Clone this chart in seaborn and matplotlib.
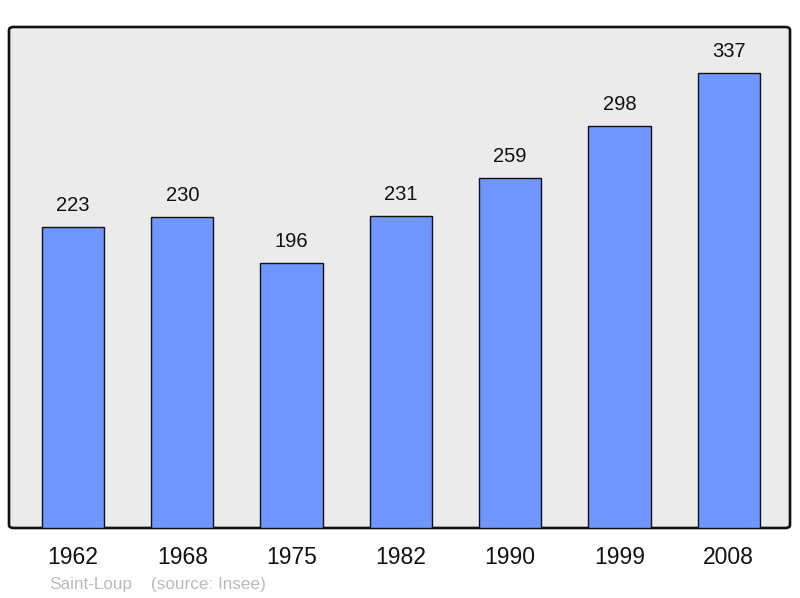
import matplotlib
matplotlib.use('Agg')
import matplotlib.pyplot as plt
import seaborn as sns
from matplotlib.patches import FancyBboxPatch

years = ['1962', '1968', '1975', '1982', '1990', '1999', '2008']
population = [223, 230, 196, 231, 259, 298, 337]

sns.set_theme(style="white")
plt.rcParams['font.family'] = ['Liberation Sans', 'DejaVu Sans']

fig = plt.figure(figsize=(8, 5.98), dpi=100)
ax = fig.add_axes([9 / 800, 1 - 528 / 598, 781 / 800, 501 / 598])
ax.set_facecolor('none')

# frame with slightly rounded corners
frame = FancyBboxPatch((0, 0), 1, 1, boxstyle="round,pad=0,rounding_size=0.006",
                       transform=ax.transAxes, facecolor='#ebebeb', edgecolor='#111111',
                       linewidth=1.9, zorder=0, clip_on=False)
ax.add_patch(frame)

sns.barplot(x=years, y=population, ax=ax, color='#7097ff', saturation=1,
            width=0.57, edgecolor='#111111', linewidth=1.0, zorder=2)

for i, v in enumerate(population):
    ax.annotate(str(v), (i, v), xytext=(0, 15.5), textcoords='offset points',
                ha='center', va='center', fontsize=14.5, color='#111111')

ax.set_xlim(-0.585, 6.56)
ax.set_ylim(0, 371)
for s in ax.spines.values():
    s.set_visible(False)
ax.set_yticks([])
ax.tick_params(axis='x', length=0, pad=13, labelsize=16.5, colors='#111111')
ax.set_xlabel('')
ax.set_ylabel('')

fig.text(49 / 800, 1 - 584 / 598, 'Saint-Loup', fontsize=12.3, color='#bbbbbb', va='center')
fig.text(151 / 800, 1 - 584 / 598, '(source: Insee)', fontsize=12.3, color='#bbbbbb', va='center')

fig.savefig('out.png', dpi=100)
